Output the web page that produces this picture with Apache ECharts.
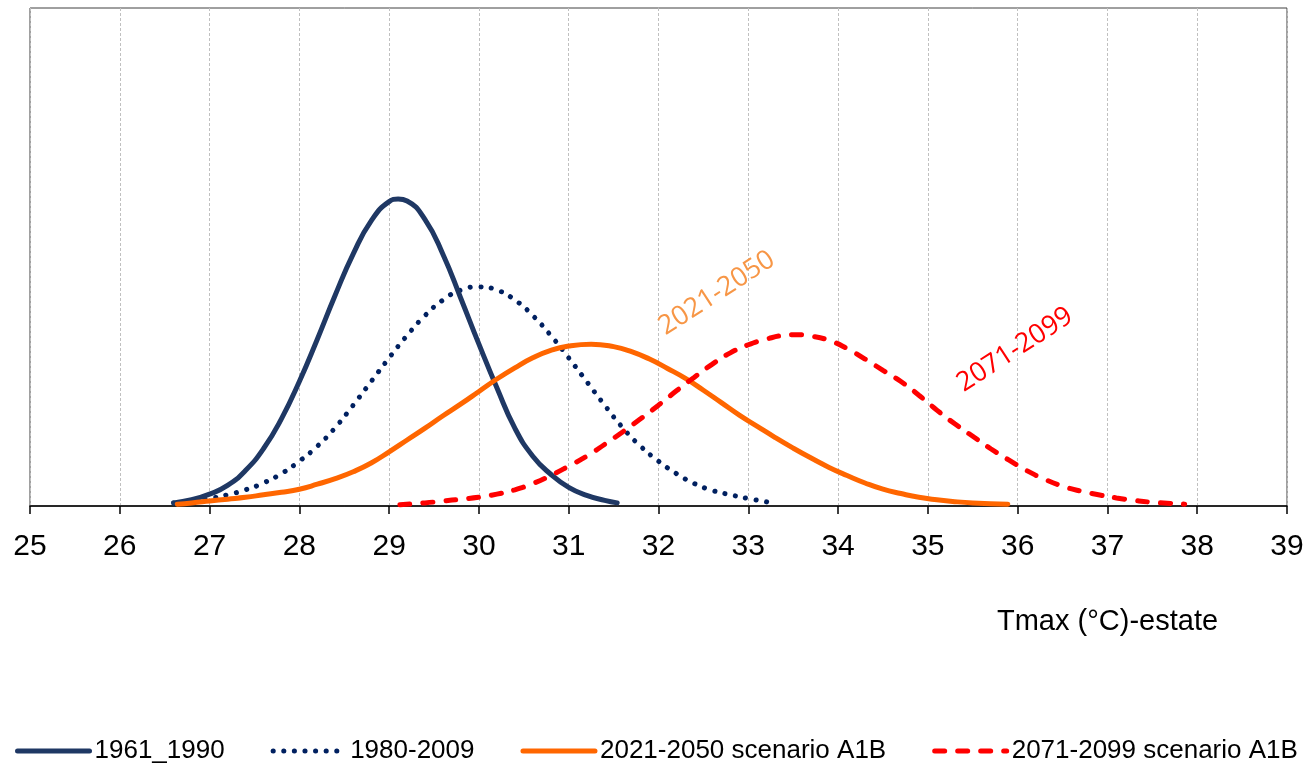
<!DOCTYPE html>
<html>
<head>
<meta charset="utf-8">
<script src="https://cdn.jsdelivr.net/npm/echarts@6/dist/echarts.min.js"></script>
<style>
html,body{margin:0;padding:0;background:#fff;}
#chart{width:1312px;height:766px;}
</style>
</head>
<body>
<div id="chart"></div>
<script>
// Tick labels for the x axis (Tmax °C)
var xTicks = [25,26,27,28,29,30,31,32,33,34,35,36,37,38,39];

// Series names
var seriesNames = ['1961_1990', '1980-2009', '2021-2050 scenario A1B', '2071-2099 scenario A1B'];

// 1961_1990 : [Tmax, density]
var s1961 = [[26.6,0.005],[26.8,0.010],[27.0,0.019],[27.2,0.033],[27.4,0.057],[27.6,0.092],[27.8,0.140],[28.0,0.200],[28.2,0.268],[28.4,0.339],[28.6,0.405],[28.8,0.458],[29.0,0.489],[29.1,0.493],[29.2,0.490],[29.4,0.460],[29.6,0.404],[29.8,0.333],[30.0,0.260],[30.2,0.190],[30.4,0.125],[30.6,0.080],[30.8,0.051],[31.0,0.030],[31.2,0.017],[31.4,0.009],[31.54,0.005]];

// 1980-2009
var s1980 = [[26.6,0.005],[26.8,0.008],[27.0,0.012],[27.2,0.018],[27.4,0.026],[27.6,0.037],[27.8,0.052],[28.0,0.072],[28.2,0.096],[28.4,0.126],[28.6,0.162],[28.8,0.200],[29.0,0.238],[29.2,0.274],[29.4,0.306],[29.6,0.331],[29.8,0.347],[30.0,0.352],[30.2,0.347],[30.4,0.331],[30.6,0.306],[30.8,0.274],[31.0,0.238],[31.2,0.200],[31.4,0.162],[31.6,0.126],[31.8,0.096],[32.0,0.072],[32.2,0.052],[32.4,0.036],[32.6,0.025],[32.8,0.018],[33.0,0.012],[33.27,0.005]];

// 2021-2050 scenario A1B
var s2021 = [[26.64,0.003],[26.8,0.005],[27.0,0.008],[27.2,0.011],[27.4,0.014],[27.6,0.018],[27.8,0.022],[28.0,0.027],[28.2,0.035],[28.4,0.044],[28.6,0.055],[28.8,0.069],[29.0,0.087],[29.2,0.106],[29.4,0.125],[29.6,0.145],[29.8,0.164],[30.0,0.184],[30.2,0.204],[30.4,0.222],[30.6,0.238],[30.8,0.250],[31.0,0.257],[31.25,0.260],[31.5,0.256],[31.7,0.248],[31.9,0.236],[32.1,0.221],[32.3,0.205],[32.5,0.186],[32.7,0.166],[32.9,0.146],[33.1,0.128],[33.3,0.110],[33.5,0.093],[33.7,0.077],[33.9,0.062],[34.1,0.049],[34.3,0.037],[34.5,0.027],[34.7,0.020],[34.9,0.014],[35.1,0.010],[35.3,0.007],[35.5,0.005],[35.89,0.003]];

// 2071-2099 scenario A1B
var s2071 = [[29.12,0.002],[29.4,0.005],[29.6,0.008],[29.8,0.011],[30.0,0.014],[30.2,0.019],[30.4,0.026],[30.6,0.036],[30.8,0.049],[31.0,0.064],[31.2,0.080],[31.4,0.099],[31.6,0.119],[31.8,0.140],[32.0,0.162],[32.2,0.185],[32.4,0.207],[32.6,0.228],[32.8,0.246],[33.0,0.259],[33.2,0.268],[33.4,0.274],[33.55,0.275],[33.7,0.273],[33.9,0.266],[34.1,0.253],[34.3,0.236],[34.5,0.218],[34.7,0.200],[34.9,0.178],[35.1,0.154],[35.3,0.132],[35.5,0.112],[35.7,0.092],[35.9,0.074],[36.1,0.057],[36.3,0.043],[36.5,0.032],[36.7,0.024],[36.9,0.018],[37.1,0.013],[37.3,0.009],[37.5,0.006],[37.86,0.003]];

// In-plot annotations: [text, x, y]
var annotations = [['2021-2050', 32.65, 0.342], ['2071-2099', 35.97, 0.251]];
var axisTitle = 'Tmax (°C)-estate';

var chart = echarts.init(document.getElementById('chart'), null, {renderer:'canvas'});
var font = 'Liberation Sans, Arial, sans-serif';

var option = {
  animation: false,
  backgroundColor: '#fff',
  grid: {left: 30, right: 25, top: 8, bottom: 260, show: true, borderColor: '#404040', borderWidth: 1, backgroundColor: 'transparent'},
  title: {text: axisTitle, left: 992, top: 602, textStyle: {fontFamily: font, fontSize: 29, fontWeight: 'normal', color: '#000'}},
  xAxis: {
    type: 'value', min: xTicks[0], max: xTicks[xTicks.length-1], interval: 1,
    axisLine: {show: true, onZero: false, lineStyle: {color: '#000', width: 1.5}},
    axisTick: {show: true, inside: false, length: 8, lineStyle: {color: '#000', width: 1.5}},
    axisLabel: {fontFamily: font, fontSize: 30, color: '#000', margin: 26, showMinLabel: true, showMaxLabel: true},
    splitLine: {show: true, lineStyle: {color: '#C0C0C0', width: 1, type: [3,2]}}
  },
  yAxis: {
    type: 'value', min: 0, max: 0.8,
    axisLine: {show: false}, axisTick: {show: false}, axisLabel: {show: false}, splitLine: {show: false}
  },
  legend: {
    bottom: 2, left: 15, padding: 0, itemGap: 46, itemWidth: 72, itemHeight: 10,
    textStyle: {fontFamily: font, fontSize: 26, color: '#000'},
    itemStyle: {opacity: 0},
    lineStyle: {width: 5},
    data: seriesNames
  },
  series: [
    {name: seriesNames[0], type: 'line', smooth: 0.5, symbol: 'none', data: s1961, z: 4,
     itemStyle: {color: '#1F3864'}, lineStyle: {color: '#1F3864', width: 5, cap: 'round'}},
    {name: seriesNames[1], type: 'line', smooth: 0.5, symbol: 'none', data: s1980, z: 3,
     itemStyle: {color: '#002060'}, lineStyle: {color: '#002060', width: 5, type: [0.1, 10.5], cap: 'round'}},
    {name: seriesNames[2], type: 'line', smooth: 0.5, symbol: 'none', data: s2021, z: 5,
     itemStyle: {color: '#FF6600'}, lineStyle: {color: '#FF6600', width: 5, cap: 'round'}},
    {name: seriesNames[3], type: 'line', smooth: 0.5, symbol: 'none', data: s2071, z: 6,
     itemStyle: {color: '#FF0000'}, lineStyle: {color: '#FF0000', width: 5, type: [10, 13], cap: 'round'}}
  ]
};
chart.setOption(option);

var annColors = ['#F79646', '#FF0000'];
var gr = annotations.map(function(a, i){
  var p = chart.convertToPixel({gridIndex: 0}, [a[1], a[2]]);
  return {type: 'text', x: p[0], y: p[1], rotation: 33*Math.PI/180,
    style: {text: a[0], fill: annColors[i], font: '27px "Open Sans", sans-serif', align: 'center', verticalAlign: 'middle'}};
});
chart.setOption({graphic: gr});
</script>
</body>
</html>
